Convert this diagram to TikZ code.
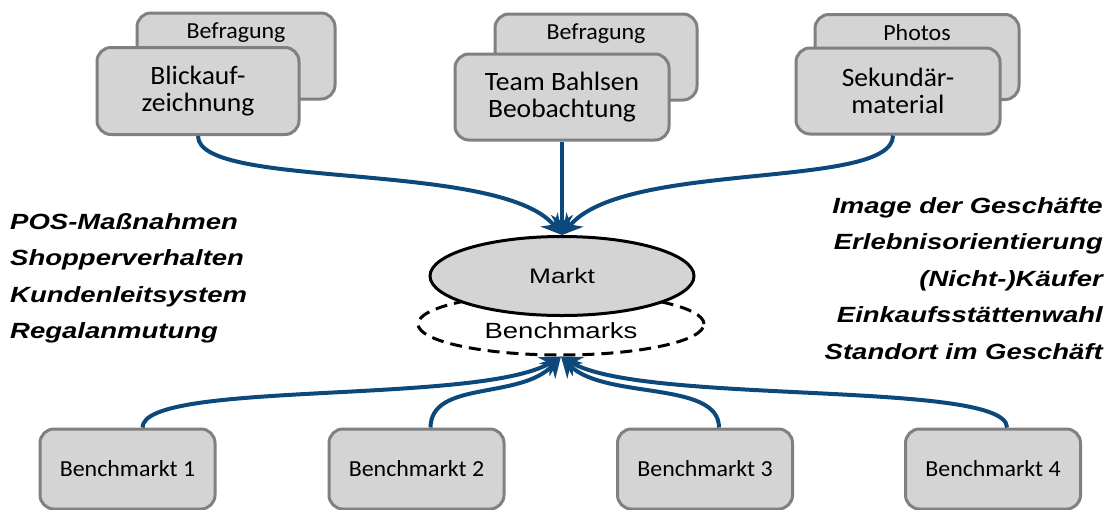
\documentclass[tikz,border=0pt]{standalone}
\usepackage{fontspec}
\setmainfont{Carlito}[FakeStretch=1.04]
\newfontfamily\arialf{Liberation Sans}[FakeStretch=1.25]
\usetikzlibrary{arrows.meta,shapes.geometric}
\definecolor{conn}{RGB}{12,72,122}
\definecolor{boxfill}{RGB}{212,212,212}
\definecolor{boxline}{RGB}{128,128,128}
\tikzset{
  gbox/.style={draw=boxline, fill=boxfill, line width=3pt, rounded corners=14pt,
    align=center, font=\fontsize{23}{27}\selectfont, inner sep=0pt},
  frontbox/.style={gbox, font=\fontsize{26.5}{27}\selectfont},
  backlabel/.style={anchor=north, yshift=-8pt, font=\fontsize{23}{27}\selectfont},
  conline/.style={draw=conn, line width=4pt, -{Stealth[length=20pt,width=22pt]}},
  side/.style={font=\arialf\bfseries\itshape\fontsize{22}{36.5}\selectfont, inner sep=0pt},
}
\begin{document}
\begin{tikzpicture}[x=1pt,y=-1pt]
\useasboundingbox (0,0) rectangle (1107,509);
% top boxes
\node[gbox, minimum width=198pt, minimum height=86pt, label={[backlabel]north:Befragung}] (tlb) at (236,56) {};
\node[frontbox, minimum width=202pt, minimum height=87pt] (tl) at (198,91) {Blickauf-\\zeichnung};
\node[gbox, minimum width=202pt, minimum height=86pt, label={[backlabel]north:Befragung}] (tmb) at (596,57) {};
\node[frontbox, minimum width=214pt, minimum height=86pt] (tm) at (562,97) {Team Bahlsen\\Beobachtung};
\node[gbox, minimum width=204pt, minimum height=85pt, label={[backlabel]north:Photos}] (trb) at (917,57) {};
\node[frontbox, minimum width=204pt, minimum height=86pt] (tr) at (898,91) {Sekundär-\\material};
% ellipses
\node[ellipse, draw=black, line width=3pt, dashed, dash pattern=on 12pt off 7pt, minimum width=286pt, minimum height=62pt, inner sep=0pt] (bench) at (561,324) {};
\node[font=\arialf\fontsize{22}{26}\selectfont] (benchtxt) at (561,331) {Benchmarks};
\node[ellipse, draw=black, line width=3pt, fill=boxfill, minimum width=264pt, minimum height=79pt, inner sep=0pt, font=\arialf\fontsize{21}{25}\selectfont] (markt) at (562,276) {Markt};
% bottom boxes
\node[gbox, minimum width=175pt, minimum height=80pt] (b1) at (127.5,469) {Benchmarkt 1};
\node[gbox, minimum width=175pt, minimum height=80pt] (b2) at (416.5,469) {Benchmarkt 2};
\node[gbox, minimum width=175pt, minimum height=80pt] (b3) at (705,469) {Benchmarkt 3};
\node[gbox, minimum width=175pt, minimum height=80pt] (b4) at (993,469) {Benchmarkt 4};
% side texts
\node[side, anchor=north west, align=left] (lefttxt) at (10,213) {POS-Maßnahmen\\Shopperverhalten\\Kundenleitsystem\\Regalanmutung};
\node[side, anchor=north east, align=right] (righttxt) at (1103,197) {Image der Geschäfte\\Erlebnisorientierung\\(Nicht-)Käufer\\Einkaufsstättenwahl\\Standort im Geschäft};
% connectors top
\draw[conline] (tl.south) .. controls (198,190) and (500,160) .. (markt.north);
\draw[conline] ([xshift=-5pt]tr.south) .. controls (893,190) and (625,160) .. (markt.north);
\draw[conline] (tm.south) -- (markt.north);
% connectors bottom
\draw[conline] ([xshift=15pt]b1.north) .. controls (143,380) and (480,405) .. (bench.south);
\draw[conline] ([xshift=14pt]b2.north) .. controls (431,380) and (520,400) .. (bench.south);
\draw[conline] ([xshift=14pt]b3.north) .. controls (719,380) and (604,400) .. (bench.south);
\draw[conline] ([xshift=14pt]b4.north) .. controls (1007,380) and (644,405) .. (bench.south);
\end{tikzpicture}
\end{document}
